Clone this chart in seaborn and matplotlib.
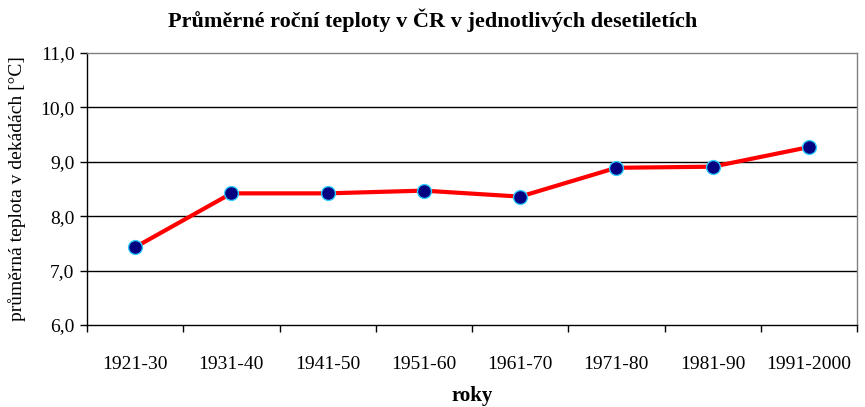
import matplotlib
matplotlib.use("Agg")
import matplotlib.pyplot as plt
import seaborn as sns
import pandas as pd
from matplotlib.ticker import FixedLocator, FuncFormatter

decades = ["1921-30", "1931-40", "1941-50", "1951-60", "1961-70", "1971-80", "1981-90", "1991-2000"]
temps = [7.43, 8.42, 8.42, 8.47, 8.36, 8.89, 8.91, 9.27]
yticks = [6.0, 7.0, 8.0, 9.0, 10.0, 11.0]

sns.set_theme(style="white")
plt.rcParams["font.family"] = ["Liberation Serif", "DejaVu Serif"]
plt.rcParams.update({"text.color": "black", "axes.labelcolor": "black",
                     "xtick.color": "black", "ytick.color": "black"})

df = pd.DataFrame({"decade": decades, "temp": temps})

fig = plt.figure(figsize=(8.65, 4.07), dpi=100)
ax = fig.add_axes([87/865, 1-325/407, (857-87)/865, (325-53)/407])

xpos = list(range(len(decades)))
df["x"] = xpos
sns.lineplot(data=df, x="x", y="temp", ax=ax, color="#ff0000", linewidth=3,
             marker="o", markersize=10, markerfacecolor="#000080",
             markeredgecolor="#33ccff", markeredgewidth=1.0, zorder=5)

ax.set_xlim(-0.5, len(decades) - 0.5)
ax.set_ylim(yticks[0], yticks[-1])
ax.set_yticks(yticks)
ax.yaxis.set_major_formatter(FuncFormatter(lambda v, p: f"{v:.1f}".replace(".", ",")))
for y in yticks[1:-1]:
    ax.axhline(y, color="black", linewidth=1, zorder=1)

ax.set_xticks(xpos)
ax.set_xticklabels(decades)
ax.xaxis.set_minor_locator(FixedLocator([i - 0.5 for i in range(len(decades) + 1)]))
ax.tick_params(axis="x", which="major", length=0, pad=22, labelsize=14, labelcolor="black")
ax.tick_params(axis="x", which="minor", length=5, width=1, color="black", direction="out", bottom=True)
ax.tick_params(axis="y", which="major", length=5, width=1, color="black", direction="out", left=True,
               labelsize=14, pad=4, labelcolor="black")

for side in ["left", "bottom"]:
    ax.spines[side].set_color("black")
    ax.spines[side].set_linewidth(1)
for side in ["top", "right"]:
    ax.spines[side].set_color("#808080")
    ax.spines[side].set_linewidth(1)

ax.set_xlabel("roky", fontsize=15, fontweight="bold", labelpad=10, color="black")
ax.set_ylabel("průměrná teplota v dekádách [°C]", fontsize=14, labelpad=10, color="black")
fig.text(0.5, 1-20/407, "Průměrné roční teploty v ČR v jednotlivých desetiletích",
         ha="center", va="center", fontsize=16, fontweight="bold", color="black")

fig.savefig("out.png", dpi=100, facecolor="white")
